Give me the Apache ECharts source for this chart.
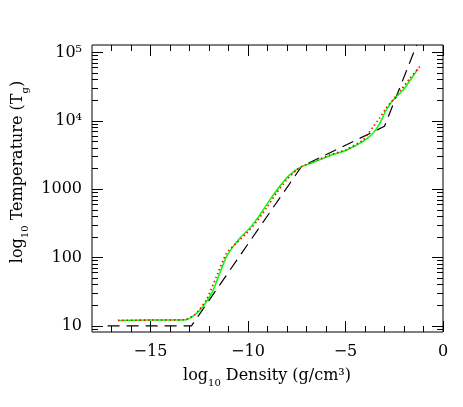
<!DOCTYPE html>
<html>
<head>
<meta charset="utf-8">
<script src="https://cdn.jsdelivr.net/npm/echarts@6/dist/echarts.min.js"></script>
<style>
  html, body { margin: 0; background: #fff; }
  #main { width: 463px; height: 407px; }
</style>
</head>
<body>
<div id="main"></div>
<script>
// log10 density (g/cm3) vs log10 temperature
const densGreen = [-16.67, -15, -14, -13.16, -12.82, -12.31, -11.79, -11.45, -11.11, -10.77, -10.43, -9.91, -9.40, -8.89, -8.38, -7.86, -7.26, -6.67, -5.81, -4.96, -4.10, -3.59, -3.25, -2.91, -2.48, -2.05, -1.62, -1.28];
const tempGreen = [1.08, 1.085, 1.087, 1.09, 1.14, 1.28, 1.52, 1.77, 2.01, 2.16, 2.28, 2.43, 2.62, 2.84, 3.04, 3.21, 3.33, 3.39, 3.49, 3.57, 3.70, 3.82, 3.96, 4.16, 4.33, 4.45, 4.62, 4.76];

const densRed = [-16.67, -15, -13.3, -12.74, -12.14, -11.62, -11.11, -10.60, -10.09, -9.57, -9.06, -8.55, -8.03, -7.52, -7.18, -6.67, -5.81, -4.96, -4.10, -3.59, -3.25, -2.91, -2.56, -2.14, -1.71, -1.11];
const tempRed = [1.08, 1.085, 1.09, 1.16, 1.38, 1.72, 2.06, 2.21, 2.35, 2.52, 2.72, 2.94, 3.13, 3.28, 3.34, 3.40, 3.50, 3.58, 3.72, 3.91, 4.04, 4.19, 4.31, 4.46, 4.62, 4.82];

const densDash = [-17.2, -12.9, -7.26, -3.0, -1.35];
const tempDash = [1.0, 1.0, 3.33, 3.92, 5.11];

const xMajor = [-15, -10, -5, 0];
const xMinor = [-17, -16, -14, -13, -12, -11, -9, -8, -7, -6, -4, -3, -2, -1];
const yMajor = [1, 2, 3, 4, 5];
const yTickLabels = ['10', '100', '1000', '10⁴', '10⁵'];

const yMinor = [];
for (let d = 0; d <= 4; d++) {
  for (let k = 2; k <= 9; k++) yMinor.push(d + Math.log10(k));
}

const font = 'DejaVu Serif';
const zip = (a, b) => a.map((v, i) => [v, b[i]]);
const box = { left: 92, right: 20, top: 45, bottom: 75 };

function xAx(g, pos, ticks, len, labels) {
  return {
    type: 'value', gridIndex: g, position: pos, min: -18, max: 0,
    axisLine: { show: false, onZero: false },
    splitLine: { show: false },
    axisTick: { show: true, inside: true, length: len, customValues: ticks, lineStyle: { color: '#000', width: 1 } },
    axisLabel: {
      show: labels, customValues: ticks, margin: 12,
      color: '#000', fontFamily: font, fontSize: 16,
      formatter: v => v < 0 ? '\u2212' + Math.abs(v) : String(v)
    }
  };
}

function yAx(g, pos, ticks, len, labels) {
  return {
    type: 'value', gridIndex: g, position: pos, min: 0.91, max: 5.11,
    axisLine: { show: false, onZero: false },
    splitLine: { show: false },
    axisTick: { show: true, inside: true, length: len, customValues: ticks, lineStyle: { color: '#000', width: 1 } },
    axisLabel: {
      show: labels, customValues: ticks, margin: 10,
      color: '#000', fontFamily: font, fontSize: 16,
      formatter: v => yTickLabels[yMajor.indexOf(Math.round(v))] || ''
    }
  };
}

const option = {
  animation: false,
  grid: [
    Object.assign({ show: true, borderColor: '#000', borderWidth: 1, backgroundColor: 'transparent' }, box),
    Object.assign({}, box)
  ],
  xAxis: [
    xAx(0, 'bottom', xMajor, 11, true),
    xAx(0, 'top', xMajor, 11, false),
    xAx(1, 'bottom', xMinor, 6, false),
    xAx(1, 'top', xMinor, 6, false)
  ],
  yAxis: [
    yAx(0, 'left', yMajor, 11, true),
    yAx(0, 'right', yMajor, 11, false),
    yAx(1, 'left', yMinor, 6, false),
    yAx(1, 'right', yMinor, 6, false)
  ],
  series: [
    {
      type: 'line', data: zip(densDash, tempDash), symbol: 'none',
      lineStyle: { color: '#000', width: 1.2, type: [12, 7] }
    },
    {
      type: 'line', data: zip(densGreen, tempGreen), symbol: 'none', smooth: 0.2,
      lineStyle: { color: '#00ff00', width: 1.5 }
    },
    {
      type: 'line', data: zip(densRed, tempRed), symbol: 'none', smooth: 0.2,
      lineStyle: { color: '#ff0000', width: 1.6, type: [1.5, 2.8] }
    }
  ],
  graphic: [
    {
      type: 'text', x: 267, y: 376,
      style: {
        text: 'log{sub|10} Density (g/cm³)',
        align: 'center', verticalAlign: 'middle',
        fontFamily: font, fontSize: 16, fill: '#000',
        rich: { sub: { fontFamily: font, fontSize: 10, verticalAlign: 'bottom', lineHeight: 10, padding: [0, 0, -4, 0] } }
      }
    },
    {
      type: 'text', x: 18, y: 172, rotation: Math.PI / 2,
      style: {
        text: 'log{sub|10} Temperature (T{sub|g})',
        align: 'center', verticalAlign: 'middle',
        fontFamily: font, fontSize: 16, fill: '#000',
        rich: { sub: { fontFamily: font, fontSize: 10, verticalAlign: 'bottom', lineHeight: 10, padding: [0, 0, -4, 0] } }
      }
    }
  ]
};

const myChart = echarts.init(document.getElementById('main'));
myChart.setOption(option);
</script>
</body>
</html>
